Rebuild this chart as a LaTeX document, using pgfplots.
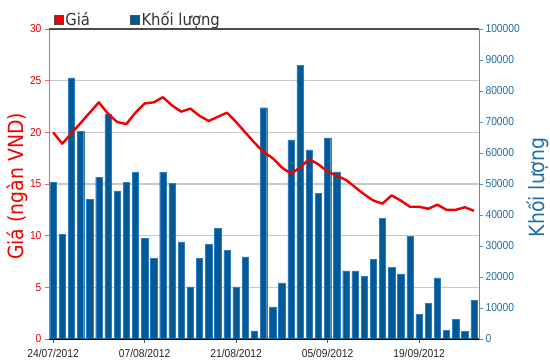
\documentclass[border=0pt]{standalone}
\usepackage{fontspec}
\usepackage{pgfplots}
\pgfplotsset{compat=1.18}
\newfontfamily\tickfont[FakeStretch=0.9]{Liberation Sans}
\newfontfamily\labfont[FakeStretch=0.9]{DejaVu Sans}
\definecolor{barblue}{RGB}{0,90,152}
\definecolor{baredge}{RGB}{45,125,190}
\definecolor{volblue}{RGB}{30,110,165}
\definecolor{raxis}{RGB}{80,145,190}
\definecolor{pricered}{RGB}{240,0,0}
\definecolor{laxis}{RGB}{255,90,90}
\definecolor{gridgray}{RGB}{200,200,200}
\definecolor{bordergray}{RGB}{80,80,80}
\begin{document}
\begin{tikzpicture}
\begin{axis}[
  name=ax1,
  scale only axis, width=430bp, height=310bp,
  xmin=-0.45, xmax=46.55, ymin=0, ymax=100000,
  axis y line*=right, axis x line*=bottom,
  axis line style={-},
  x axis line style={draw=bordergray, line width=1.2bp},
  y axis line style={draw=raxis, line width=1bp},
  tick align=outside, major tick length=4bp,
  xtick={0,10,20,30,40},
  xticklabels={24/07/2012,07/08/2012,21/08/2012,05/09/2012,19/09/2012},
  x tick style={bordergray, line width=0.8bp},
  y tick style={raxis, line width=0.8bp},
  ytick={0,10000,...,100000},
  scaled y ticks=false,
  /pgf/number format/assume math mode=true,
  yticklabel style={/pgf/number format/fixed, /pgf/number format/1000 sep={}, font=\tickfont\fontsize{11.5}{12}\selectfont, text=volblue, xshift=-1bp},
  xticklabel style={font=\tickfont\fontsize{11.5}{12}\selectfont, text=black!85, yshift=-3bp},
  extra y ticks={16666.667,33333.333,50000,66666.667,83333.333},
  extra y tick labels={},
  extra y tick style={grid=major, major grid style={gridgray, line width=1.3bp}, major tick length=0pt},
  every axis y label/.style={at={(axis description cs:1.137,0.489)}, rotate=90, anchor=center},
  ylabel={Khối lượng},
  ylabel style={font=\labfont\fontsize{21}{21}\selectfont, text=volblue},
]
\addplot[ybar, bar width=0.69, fill=barblue, draw=baredge, line width=0.4bp] coordinates {
(0,50600) (1,33800) (2,84200) (3,66900) (4,45000) (5,52200) (6,72500) (7,47800)
(8,50500) (9,53800) (10,32500) (11,26000) (12,53800) (13,50100) (14,31300) (15,16800)
(16,26000) (17,30500) (18,35700) (19,28500) (20,16800) (21,26500) (22,2600) (23,74600)
(24,10400) (25,18100) (26,64200) (27,88300) (28,61000) (29,46900) (30,64900) (31,53900)
(32,22000) (33,22000) (34,20100) (35,25700) (36,38900) (37,23200) (38,21000) (39,33200)
(40,8000) (41,11600) (42,19700) (43,2900) (44,6400) (45,2500) (46,12500)
};
\end{axis}
\begin{axis}[
  scale only axis, width=430bp, height=310bp,
  xmin=-0.45, xmax=46.55, ymin=0, ymax=30,
  axis y line*=left, axis x line*=none,
  axis line style={-},
  y axis line style={draw=laxis, line width=0.8bp},
  xtick=\empty,
  tick align=outside, major tick length=4bp,
  ytick={0,5,...,30},
  y tick style={laxis, line width=0.8bp},
  extra y ticks={30}, extra y tick labels={},
  extra y tick style={grid=major, major grid style={draw=bordergray, line width=2.2bp}, major tick length=0pt},
  /pgf/number format/assume math mode=true,
  yticklabel style={font=\tickfont\fontsize{11.5}{12}\selectfont, text=pricered},
  every axis y label/.style={at={(axis description cs:-0.0744,0.492)}, rotate=90, anchor=center},
  ylabel={Giá (ngàn VND)},
  ylabel style={font=\labfont\fontsize{21}{21}\selectfont, text=pricered},
  legend image code/.code={\draw[#1] (0bp,-4.5bp) rectangle (9bp,4.5bp);},
  legend columns=2,
  legend cell align=left,
  legend style={at={(axis description cs:0,1)}, anchor=south west, xshift=5bp, yshift=0bp,
    draw=none, fill=none, inner sep=0pt,
    font=\labfont\fontsize{16.5}{16.5}\selectfont, text=black!80,
    nodes={inner sep=1.5bp},
    /tikz/every even column/.append style={column sep=39bp}},
]
\addlegendimage{draw=black!70, fill=pricered, line width=0.6bp}
\addlegendentry{Giá}
\addlegendimage{draw=black!70, fill=barblue, line width=0.6bp}
\addlegendentry{Khối lượng}
\addplot[forget plot, pricered, line width=2.4bp, line join=round] coordinates {
(0,20.0) (1,18.9) (2,19.9) (3,20.9) (4,21.9) (5,22.9) (6,21.8) (7,21.0)
(8,20.8) (9,21.9) (10,22.8) (11,22.9) (12,23.4) (13,22.6) (14,22.0) (15,22.3)
(16,21.6) (17,21.1) (18,21.5) (19,21.9) (20,21.0) (21,20.0) (22,19.0) (23,18.1)
(24,17.5) (25,16.6) (26,16.0) (27,16.6) (28,17.4) (29,16.9) (30,16.2) (31,15.8)
(32,15.4) (33,14.7) (34,14.0) (35,13.4) (36,13.1) (37,13.9) (38,13.4) (39,12.8)
(40,12.8) (41,12.6) (42,13.0) (43,12.5) (44,12.5) (45,12.75) (46,12.4)
};
\end{axis}
\draw[black!70, line width=2.2bp] (ax1.north west) -- (ax1.north east);
\pgfresetboundingbox
\path ([xshift=-49bp,yshift=-25bp]ax1.south west) rectangle ([xshift=71bp,yshift=29bp]ax1.north east);
\end{tikzpicture}
\end{document}
